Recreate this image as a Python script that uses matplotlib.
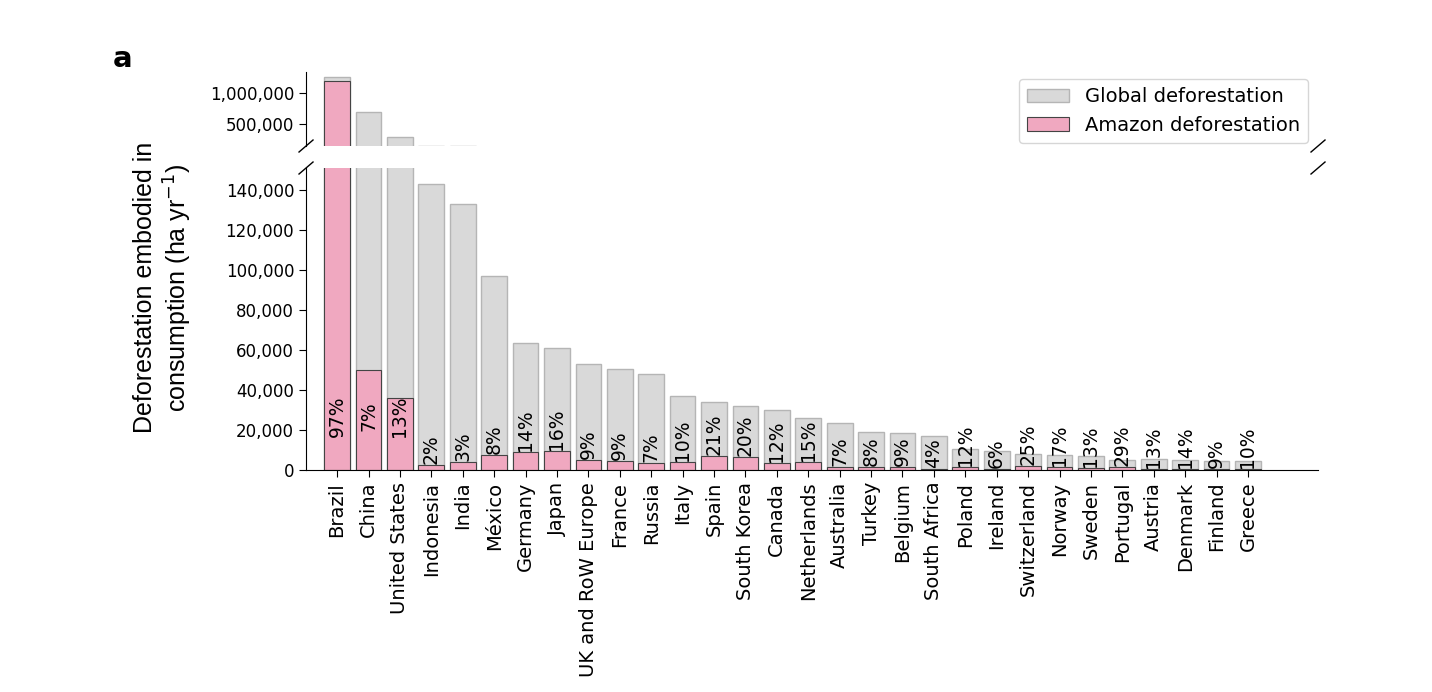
import matplotlib.pyplot as plt

countries = ['Brazil', 'China', 'United States', 'Indonesia', 'India', 'México',
             'Germany', 'Japan', 'UK and RoW Europe', 'France', 'Russia', 'Italy',
             'Spain', 'South Korea', 'Canada', 'Netherlands', 'Australia', 'Turkey',
             'Belgium', 'South Africa', 'Poland', 'Ireland', 'Switzerland', 'Norway',
             'Sweden', 'Portugal', 'Austria', 'Denmark', 'Finland', 'Greece']
global_def = [1255000, 694000, 290000, 143000, 133000, 96800,
              63700, 61200, 53200, 50700, 48200, 37100,
              34100, 32100, 30100, 26100, 23600, 19100,
              18600, 17100, 10500, 9500, 8000, 7500,
              7000, 5000, 5500, 5000, 4500, 4500]
amazon_def = [1190000, 50200, 36000, 2300, 4100, 7700,
              8800, 9500, 4800, 4500, 3400, 3800,
              7100, 6300, 3600, 3900, 1700, 1500,
              1700, 700, 1300, 600, 2000, 1300,
              900, 1500, 700, 700, 400, 450]
pct_labels = ['97%', '7%', '13%', '2%', '3%', '8%', '14%', '16%', '9%', '9%', '7%',
              '10%', '21%', '20%', '12%', '15%', '7%', '8%', '9%', '4%', '12%', '6%',
              '25%', '17%', '13%', '29%', '13%', '14%', '9%', '10%']


def main():
    fig = plt.figure(figsize=(14.32, 6.92), dpi=100)
    ax_top = fig.add_axes([0.2137, 0.789, 0.7067, 0.107])
    ax_bot = fig.add_axes([0.2137, 0.3208, 0.7067, 0.4364])

    x = list(range(len(countries)))
    for ax in (ax_top, ax_bot):
        ax.bar(x, global_def, width=0.82, color='#d9d9d9', edgecolor='#b5b5b5',
               linewidth=1, label='Global deforestation')
        ax.bar(x, amazon_def, width=0.82, color='#f0a8c0', edgecolor='#444444',
               linewidth=0.8, label='Amazon deforestation')
        ax.set_xlim(-0.99, 31.23)
        ax.spines['top'].set_visible(False)
        ax.spines['right'].set_visible(False)
        ax.tick_params(labelsize=12, length=5)

    ax_top.set_ylim(140000, 1330000)
    ax_top.set_yticks([500000, 1000000])
    ax_top.set_yticklabels(['500,000', '1,000,000'])
    ax_top.spines['bottom'].set_visible(False)
    ax_top.set_xticks([])

    ax_bot.set_ylim(0, 151000)
    yt = list(range(0, 140001, 20000))
    ax_bot.set_yticks(yt)
    ax_bot.set_yticklabels([f'{v:,}' for v in yt])
    ax_bot.set_xticks(x)
    ax_bot.set_xticklabels(countries, rotation=90, fontsize=14)

    # percentage labels
    for i, (a, p) in enumerate(zip(amazon_def, pct_labels)):
        if a > 30000:
            ax_bot.text(i, 27000, p, rotation=90, ha='center', va='center', fontsize=13.5)
        else:
            ax_bot.text(i, a + 500, p, rotation=90, ha='center', va='bottom', fontsize=13.5)

    # break marks (about 14 x 12 px each)
    dx = 7 / 1012
    kw = dict(color='k', clip_on=False, linewidth=1)
    dyt = 6 / 74
    dyb = 6 / 302
    ax_top.plot((-dx, dx), (-dyt, dyt), transform=ax_top.transAxes, **kw)
    ax_top.plot((1 - dx, 1 + dx), (-dyt, dyt), transform=ax_top.transAxes, **kw)
    ax_bot.plot((-dx, dx), (1 - dyb, 1 + dyb), transform=ax_bot.transAxes, **kw)
    ax_bot.plot((1 - dx, 1 + dx), (1 - dyb, 1 + dyb), transform=ax_bot.transAxes, **kw)

    ax_top.legend(loc='upper right', fontsize=14, frameon=True, handlelength=2.2,
                  bbox_to_anchor=(0.99, 0.9), borderaxespad=0.0)

    fig.text(0.114, 0.584, 'Deforestation embodied in\nconsumption (ha yr$^{-1}$)',
             rotation=90, ha='center', va='center', fontsize=18,
             family='Liberation Sans', linespacing=1.2)
    fig.text(0.079, 0.915, 'a', fontsize=21, fontweight='bold', family='DejaVu Sans',
             ha='left', va='center')

    fig.savefig('out.png', dpi=100)


if __name__ == "__main__":
    main()
